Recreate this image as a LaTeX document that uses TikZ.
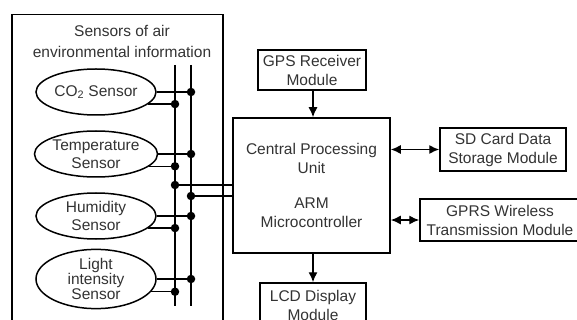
\documentclass[tikz,border=0pt]{standalone}
\usepackage{fontspec}
\setmainfont{Liberation Sans}
\usetikzlibrary{arrows.meta,shapes.geometric,calc}
\begin{document}
\begin{tikzpicture}[x=1pt,y=-1pt,
  lbl/.style={font=\fontsize{15.5}{19}\selectfont, text=black!80},
  box/.style={draw, line width=1.5pt, inner sep=0pt, align=center, lbl},
  sens/.style={draw, ellipse, line width=1.5pt, minimum width=120pt, minimum height=46pt, inner sep=0pt, align=center, lbl},
  wire/.style={line width=1.4pt},
  jdot/.style={circle, fill, inner sep=0pt, minimum size=8.5pt},
  arr/.style={line width=1.4pt, -{Latex[length=10pt,width=9pt]}},
  darr/.style={line width=1.4pt, {Latex[length=10pt,width=9pt]}-{Latex[length=10pt,width=9pt]}}]
\useasboundingbox (0,0) rectangle (577,320);
\clip (0,0) rectangle (577,320);
% sensor panel
\node[box, minimum width=211pt, minimum height=330pt, anchor=north west] (panel) at (11,14) {};
\node[lbl, align=center, font=\fontsize{15.5}{20.5}\selectfont] (title) at (122,41.5) {Sensors of air\\environmental information};
% sensors
\node[sens] (co2) at (96,92) {CO\textsubscript{2} Sensor};
\node[sens, font=\fontsize{15.5}{18}\selectfont] (temp) at (96,154) {Temperature\\Sensor};
\node[sens, font=\fontsize{15.5}{18}\selectfont] (hum) at (96,216) {Humidity\\Sensor};
\node[sens, font=\fontsize{15.5}{13.5}\selectfont] (light) at (96,279) {Light\\intensity\\Sensor};
% buses
\coordinate (bLt) at (175,65); \coordinate (bLb) at (175,306);
\coordinate (bRt) at (191,65); \coordinate (bRb) at (191,306);
\draw[wire] (bLt) -- (bLb);
\draw[wire] (bRt) -- (bRb);
% central unit
\node[box, minimum width=157pt, minimum height=135pt] (cpu) at (311.5,185.5)
  {Central Processing\\Unit\\[16pt]ARM\\Microcontroller};
% sensor wires
\foreach \s in {co2,temp,hum,light}{
  \draw[wire] (\s.east) -- (\s.east -| bRt) node[jdot] (\s R) {};
  \draw[wire] (\s.-13) -- (\s.-13 -| bLt) node[jdot] (\s L) {};
}
% bus to cpu
\node[jdot] (jL) at (175,185) {};
\node[jdot] (jR) at (191,196) {};
\draw[wire] (jL) -- (jL -| cpu.west);
\draw[wire] (jR) -- (jR -| cpu.west);
% modules
\node[box, minimum width=108pt, minimum height=40pt] (gps) at (312,70) {GPS Receiver\\Module};
\node[box, minimum width=106pt, minimum height=44pt] (lcd) at (313,305) {LCD Display\\Module};
\node[box, minimum width=126pt, minimum height=43pt] (sd) at (503,149.5) {SD Card Data\\Storage Module};
\node[box, minimum width=160pt, minimum height=42pt] (gprs) at (500,220) {GPRS Wireless\\Transmission Module};
% arrows
\draw[arr] (gps.south -| 313,0) -- (cpu.north -| 313,0);
\draw[arr] (cpu.south -| 313,0) -- (lcd.north -| 313,0);
\draw[darr] (cpu.east |- sd.west) -- (sd.west);
\draw[darr] (cpu.east |- gprs.west) -- (gprs.west);
\end{tikzpicture}
\end{document}
